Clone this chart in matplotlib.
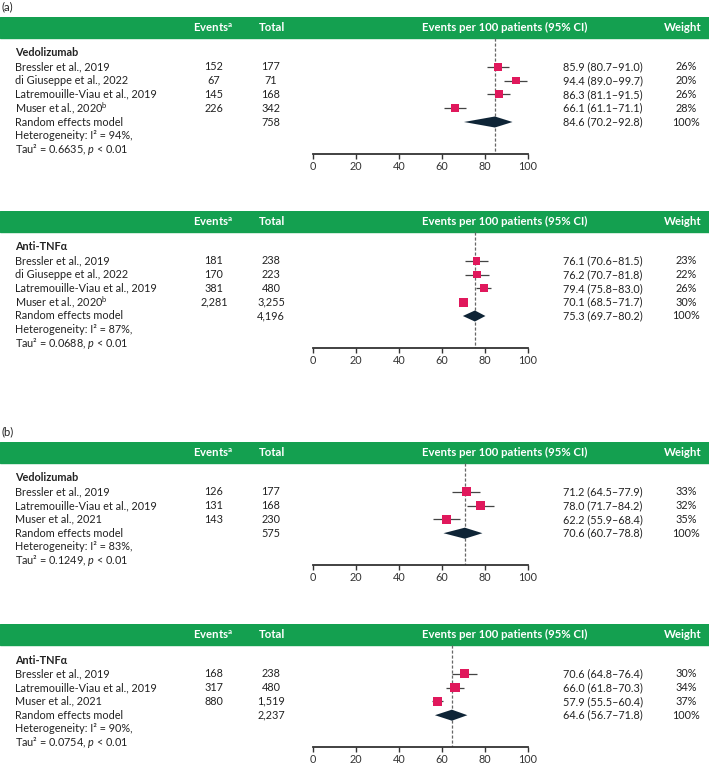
import numpy as np
import matplotlib
matplotlib.use("Agg")
import matplotlib.pyplot as plt

plt.rcParams['font.family'] = ['Lato', 'DejaVu Sans']
plt.rcParams['mathtext.fontset'] = 'custom'
plt.rcParams['mathtext.rm'] = 'Lato'
plt.rcParams['mathtext.it'] = 'Lato:italic'
plt.rcParams['mathtext.bf'] = 'Lato:bold'

# ---- data ----
# (a) top: vedolizumab
a_vedo_studies = ["Bressler et al., 2019", "di Giuseppe et al., 2022",
                  "Latremouille-Viau et al., 2019", "Muser et al., 2020$^{\\mathrm{b}}$"]
a_vedo_events = ["152", "67", "145", "226"]
a_vedo_total = ["177", "71", "168", "342"]
a_vedo_est = [85.9, 94.4, 86.3, 66.1]
a_vedo_lo = [80.7, 89.0, 81.1, 61.1]
a_vedo_hi = [91.0, 99.7, 91.5, 71.1]
a_vedo_weight = [26, 20, 26, 28]
a_vedo_pooled = [84.6, 70.2, 92.8]
a_vedo_pooled_total = "758"
a_vedo_het = ["94%", "0.6635"]

# (a) bottom: anti-TNF
a_tnf_studies = ["Bressler et al., 2019", "di Giuseppe et al., 2022",
                 "Latremouille-Viau et al., 2019", "Muser et al., 2020$^{\\mathrm{b}}$"]
a_tnf_events = ["181", "170", "381", "2,281"]
a_tnf_total = ["238", "223", "480", "3,255"]
a_tnf_est = [76.1, 76.2, 79.4, 70.1]
a_tnf_lo = [70.6, 70.7, 75.8, 68.5]
a_tnf_hi = [81.5, 81.8, 83.0, 71.7]
a_tnf_weight = [23, 22, 26, 30]
a_tnf_pooled = [75.3, 69.7, 80.2]
a_tnf_pooled_total = "4,196"
a_tnf_het = ["87%", "0.0688"]

# (b) top: vedolizumab
b_vedo_studies = ["Bressler et al., 2019", "Latremouille-Viau et al., 2019", "Muser et al., 2021"]
b_vedo_events = ["126", "131", "143"]
b_vedo_total = ["177", "168", "230"]
b_vedo_est = [71.2, 78.0, 62.2]
b_vedo_lo = [64.5, 71.7, 55.9]
b_vedo_hi = [77.9, 84.2, 68.4]
b_vedo_weight = [33, 32, 35]
b_vedo_pooled = [70.6, 60.7, 78.8]
b_vedo_pooled_total = "575"
b_vedo_het = ["83%", "0.1249"]

# (b) bottom: anti-TNF
b_tnf_studies = ["Bressler et al., 2019", "Latremouille-Viau et al., 2019", "Muser et al., 2021"]
b_tnf_events = ["168", "317", "880"]
b_tnf_total = ["238", "480", "1,519"]
b_tnf_est = [70.6, 66.0, 57.9]
b_tnf_lo = [64.8, 61.8, 55.5]
b_tnf_hi = [76.4, 70.3, 60.4]
b_tnf_weight = [30, 34, 37]
b_tnf_pooled = [64.6, 56.7, 71.8]
b_tnf_pooled_total = "2,237"
b_tnf_het = ["90%", "0.0754"]

# ---- layout (pixels) ----
W, H = 709, 765
X0, X1 = 313, 528          # where 0 and 100 sit
PITCH = 13.8               # row height
GREEN = '#14a050'
PINK = '#e0185c'
NAVY = '#0e2436'
TXT = '#222222'
FS = 7.8

fig = plt.figure(figsize=(W / 100, H / 100), dpi=100)


def draw_panel(top, group, studies, events, totals, est, lo, hi, weights,
               pooled, pooled_total, het):
    n = len(studies)
    r_top = -36 / PITCH
    r_bar = -15 / PITCH
    r_axis = n + 3 + 4 / PITCH
    bottom_px = top + 36 + r_axis * PITCH
    ax = fig.add_axes([0, 1 - bottom_px / H, 1, (bottom_px - top) / H])
    ax.patch.set_alpha(0)
    scale = (X1 - X0) / 100
    ax.set_xlim(-X0 / scale, (W - X0) / scale)
    ax.set_ylim(r_axis, r_top)
    for s in ['top', 'left', 'right']:
        ax.spines[s].set_visible(False)
    ax.spines['bottom'].set_bounds(0, 100)
    ax.spines['bottom'].set_color('#333333')
    ax.spines['bottom'].set_linewidth(1.3)
    ax.set_xticks(np.arange(0, 101, 20))
    ax.tick_params(axis='x', length=3.5, width=1, colors='#333333',
                   labelsize=FS, pad=2)
    ax.set_yticks([])

    tr = ax.get_yaxis_transform()
    # header bar
    ax.axhspan(r_bar, r_top, color=GREEN, zorder=0)
    rc = (r_bar + r_top) / 2
    hkw = dict(transform=tr, color='white', fontweight='bold', fontsize=FS + 0.4,
               ha='center', va='center')
    ax.text(213 / W, rc, "Events$^{\\mathbf{a}}$", **hkw)
    ax.text(272 / W, rc, "Total", **hkw)
    ax.text(505 / W, rc, "Events per 100 patients (95% CI)", **hkw)
    ax.text(683 / W, rc, "Weight", **hkw)

    rows = np.arange(1, n + 1)
    kw = dict(transform=tr, color=TXT, fontsize=FS, va='center')
    ax.text(15 / W, 0, group, fontweight='bold', ha='left', **kw)
    for i in range(n):
        ax.text(15 / W, rows[i], studies[i], ha='left', **kw)
        ax.text(214 / W, rows[i], events[i], ha='center', **kw)
        ax.text(271 / W, rows[i], totals[i], ha='center', **kw)
        ax.text(603 / W, rows[i], "%.1f (%.1f\u2013%.1f)" % (est[i], lo[i], hi[i]),
                ha='center', **kw)
        ax.text(686 / W, rows[i], "%d%%" % weights[i], ha='center', **kw)
    rr = n + 1
    ax.text(15 / W, rr, "Random effects model", ha='left', **kw)
    ax.text(271 / W, rr, pooled_total, ha='center', **kw)
    ax.text(603 / W, rr, "%.1f (%.1f\u2013%.1f)" % tuple(pooled), ha='center', **kw)
    ax.text(686 / W, rr, "100%", ha='center', **kw)
    ax.text(15 / W, n + 2, "Heterogeneity: I\u00b2 = %s," % het[0], ha='left', **kw)
    ax.text(15 / W, n + 3, "Tau\u00b2 = %s, $p$ < 0.01" % het[1], ha='left', **kw)

    # forest marks
    ax.vlines(pooled[0], r_bar, r_axis, colors='#666666', linestyles=(0, (2.5, 1.5)),
              lw=0.9, zorder=1)
    ax.hlines(rows, lo, hi, colors='#444444', lw=0.9, zorder=2)
    ax.scatter(est, rows, s=np.array(weights) * 1.3, marker='s', color=PINK,
               zorder=3, linewidths=0)
    h = 0.4
    ax.fill([pooled[1], pooled[0], pooled[2], pooled[0]],
            [rr, rr - h, rr, rr + h], color=NAVY, zorder=3, lw=0)
    return ax


draw_panel(17, "Vedolizumab", a_vedo_studies, a_vedo_events, a_vedo_total,
           a_vedo_est, a_vedo_lo, a_vedo_hi, a_vedo_weight,
           a_vedo_pooled, a_vedo_pooled_total, a_vedo_het)
draw_panel(211, "Anti-TNF\u03b1", a_tnf_studies, a_tnf_events, a_tnf_total,
           a_tnf_est, a_tnf_lo, a_tnf_hi, a_tnf_weight,
           a_tnf_pooled, a_tnf_pooled_total, a_tnf_het)
draw_panel(442, "Vedolizumab", b_vedo_studies, b_vedo_events, b_vedo_total,
           b_vedo_est, b_vedo_lo, b_vedo_hi, b_vedo_weight,
           b_vedo_pooled, b_vedo_pooled_total, b_vedo_het)
draw_panel(624, "Anti-TNF\u03b1", b_tnf_studies, b_tnf_events, b_tnf_total,
           b_tnf_est, b_tnf_lo, b_tnf_hi, b_tnf_weight,
           b_tnf_pooled, b_tnf_pooled_total, b_tnf_het)

fig.text(2 / W, 1 - 7 / H, "(a)", fontsize=FS + 0.4, color=TXT, va='center', ha='left')
fig.text(1 / W, 1 - 432 / H, "(b)", fontsize=FS + 0.4, color=TXT, va='center', ha='left')

fig.savefig("out.png", dpi=100)
